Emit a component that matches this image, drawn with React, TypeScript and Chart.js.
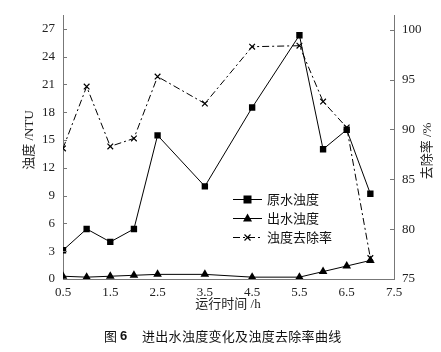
import React, { useEffect, useRef } from "react";
import { Chart, registerables } from "chart.js";

Chart.register(...registerables);

const hours = [0.5, 1, 1.5, 2, 2.5, 3.5, 4.5, 5.5, 6, 6.5, 7];
const rawTurbidity = [3.1, 5.4, 4.0, 5.4, 15.5, 10.0, 18.5, 26.3, 14.0, 16.1, 9.2];
const outTurbidity = [0.3, 0.2, 0.3, 0.4, 0.5, 0.5, 0.2, 0.2, 0.8, 1.4, 2.0];
const removalRate = [88.1, 94.3, 88.3, 89.1, 95.3, 92.6, 98.3, 98.4, 92.8, 90.2, 77.1];

const xTicks = [0.5, 1.5, 2.5, 3.5, 4.5, 5.5, 6.5, 7.5];
const leftTicks = [0, 3, 6, 9, 12, 15, 18, 21, 24, 27];
const rightTicks = [75, 80, 85, 90, 95, 100];

const seriesNames = ["原水浊度", "出水浊度", "浊度去除率"];
const leftTitle = "浊度 /NTU";
const rightTitle = "去除率 /%";
const xTitle = "运行时间 /h";
const captionNum = "图 6";
const captionText = "进出水浊度变化及浊度去除率曲线";

const SERIF = "'Liberation Serif', 'Noto Sans CJK SC', serif";
const CJK = "'Noto Sans CJK SC', 'Liberation Serif', sans-serif";
const AXIS = "#777";
const DASH = [7, 3, 2, 3];

function drawMarker(ctx: CanvasRenderingContext2D, style: string, x: number, y: number) {
  ctx.save();
  ctx.fillStyle = "#000";
  ctx.strokeStyle = "#000";
  ctx.setLineDash([]);
  ctx.lineWidth = 1.2;
  if (style === "rect") {
    ctx.fillRect(x - 4, y - 4, 8, 8);
  } else if (style === "triangle") {
    ctx.beginPath();
    ctx.moveTo(x, y - 5);
    ctx.lineTo(x + 4.5, y + 3);
    ctx.lineTo(x - 4.5, y + 3);
    ctx.closePath();
    ctx.fill();
  } else {
    ctx.beginPath();
    ctx.moveTo(x - 3, y - 3);
    ctx.lineTo(x + 3, y + 3);
    ctx.moveTo(x + 3, y - 3);
    ctx.lineTo(x - 3, y + 3);
    ctx.stroke();
  }
  ctx.restore();
}

const decorPlugin = {
  id: "decor",
  afterDraw(chart: any) {
    const ctx: CanvasRenderingContext2D = chart.ctx;
    const { y, y1 } = chart.scales;
    const area = chart.chartArea;
    ctx.save();
    // inward ticks
    ctx.strokeStyle = AXIS;
    ctx.lineWidth = 1;
    ctx.beginPath();
    for (const v of leftTicks) {
      const py = Math.round(y.getPixelForValue(v)) + 0.5;
      ctx.moveTo(area.left, py);
      ctx.lineTo(area.left + 4, py);
    }
    for (const v of rightTicks) {
      const py = Math.round(y1.getPixelForValue(v)) + 0.5;
      ctx.moveTo(area.right, py);
      ctx.lineTo(area.right - 4, py);
    }
    ctx.stroke();

    // axis titles
    ctx.fillStyle = "#222";
    ctx.font = `13px ${SERIF}`;
    ctx.textAlign = "center";
    ctx.textBaseline = "middle";
    ctx.save();
    ctx.translate(30, 140);
    ctx.rotate(-Math.PI / 2);
    ctx.fillText(leftTitle, 0, 0);
    ctx.restore();
    ctx.save();
    ctx.translate(428, 151);
    ctx.rotate(-Math.PI / 2);
    ctx.fillText(rightTitle, 0, 0);
    ctx.restore();
    ctx.fillText(xTitle, 228, 305);

    // legend
    const rows = [199, 218, 237];
    const styles = ["rect", "triangle", "cross"];
    for (let i = 0; i < 3; i++) {
      const ry = rows[i] + 0.5;
      ctx.save();
      ctx.strokeStyle = "#000";
      ctx.lineWidth = 1;
      ctx.setLineDash(i === 2 ? DASH : []);
      ctx.beginPath();
      ctx.moveTo(233, ry);
      ctx.lineTo(262, ry);
      ctx.stroke();
      ctx.restore();
      drawMarker(ctx, styles[i], 247.5, ry);
      ctx.fillStyle = "#111";
      ctx.font = `13px ${CJK}`;
      ctx.textAlign = "left";
      ctx.textBaseline = "middle";
      ctx.fillText(seriesNames[i], 267, rows[i]);
    }

    // caption
    ctx.fillStyle = "#111";
    ctx.textBaseline = "middle";
    ctx.textAlign = "left";
    ctx.font = `13px ${CJK}`;
    ctx.fillText("图", 104, 336);
    ctx.font = `bold 13px 'Liberation Sans', sans-serif`;
    ctx.fillText("6", 120, 336);
    ctx.font = `13px ${CJK}`;
    (ctx as any).letterSpacing = "0.3px";
    ctx.fillText(captionText, 142, 336);
    ctx.restore();
  },
};

export default function App() {
  const ref = useRef<HTMLCanvasElement>(null);
  useEffect(() => {
    const pts = (arr: number[]) => hours.map((h, i) => ({ x: h, y: arr[i] }));
    const chart = new Chart(ref.current!, {
      type: "line",
      data: {
        datasets: [
          {
            label: seriesNames[0],
            data: pts(rawTurbidity),
            yAxisID: "y",
            borderColor: "#000",
            backgroundColor: "#000",
            borderWidth: 1,
            pointStyle: "rect",
            pointRadius: 4.5,
            pointBorderWidth: 0,
            tension: 0,
          },
          {
            label: seriesNames[1],
            data: pts(outTurbidity),
            yAxisID: "y",
            borderColor: "#000",
            backgroundColor: "#000",
            borderWidth: 1,
            pointStyle: "triangle",
            pointRadius: 5,
            pointBorderWidth: 0,
            tension: 0,
          },
          {
            label: seriesNames[2],
            data: pts(removalRate),
            yAxisID: "y1",
            borderColor: "#000",
            backgroundColor: "#000",
            borderWidth: 1,
            borderDash: DASH,
            pointStyle: "crossRot",
            pointRadius: 4,
            pointBorderWidth: 1.2,
            tension: 0,
          },
        ],
      },
      options: {
        responsive: false,
        animation: false,
        devicePixelRatio: 1,
        layout: { padding: { top: 10, left: 0, right: 0, bottom: 0 } },
        plugins: { legend: { display: false }, tooltip: { enabled: false } },
        scales: {
          x: {
            type: "linear",
            min: 0.5,
            max: 7.5,
            afterBuildTicks: (s: any) => {
              s.ticks = xTicks.map((v) => ({ value: v }));
            },
            afterFit: (s: any) => {
              s.height = 73;
            },
            grid: { display: false, drawTicks: false },
            border: { display: true, color: AXIS, width: 1 },
            ticks: {
              padding: 6,
              color: "#222",
              font: { family: SERIF, size: 13 },
              callback: (v: any) => String(v),
              maxRotation: 0,
              autoSkip: false,
            },
          },
          y: {
            type: "linear",
            position: "left",
            min: 0,
            max: 28.4,
            afterBuildTicks: (s: any) => {
              s.ticks = leftTicks.map((v) => ({ value: v }));
            },
            afterFit: (s: any) => {
              s.width = 63;
            },
            grid: { display: false, drawTicks: false },
            border: { display: true, color: AXIS, width: 1 },
            ticks: {
              padding: 8,
              color: "#222",
              font: { family: SERIF, size: 13 },
              callback: (v: any) => String(v),
            },
          },
          y1: {
            type: "linear",
            position: "right",
            min: 75,
            max: 101.4,
            afterBuildTicks: (s: any) => {
              s.ticks = rightTicks.map((v) => ({ value: v }));
            },
            afterFit: (s: any) => {
              s.width = 47;
            },
            grid: { display: false, drawTicks: false },
            border: { display: true, color: AXIS, width: 1 },
            ticks: {
              padding: 8,
              color: "#222",
              font: { family: SERIF, size: 13 },
              callback: (v: any) => String(v),
            },
          },
        },
      },
      plugins: [decorPlugin],
    });
    return () => chart.destroy();
  }, []);
  return (
    <div style={{ position: "absolute", left: 0, top: 0, width: 441, height: 352, background: "#fff" }}>
      <canvas ref={ref} width={441} height={352} style={{ display: "block", width: 441, height: 352 }} />
    </div>
  );
}
